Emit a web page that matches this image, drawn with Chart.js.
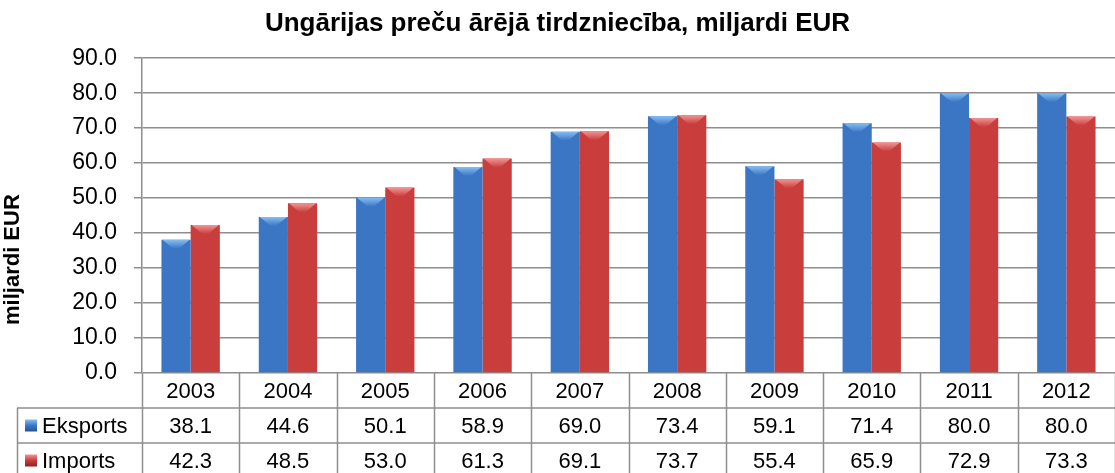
<!DOCTYPE html>
<html>
<head>
<meta charset="utf-8">
<script src="https://cdn.jsdelivr.net/npm/chart.js@4"></script>
<style>
  html, body { margin: 0; padding: 0; background: #fff; }
  #wrap { width: 1115px; height: 473px; position: relative; }
</style>
</head>
<body>
<div id="wrap"><canvas id="chart"></canvas></div>
<script>
const YEARS = ["2003", "2004", "2005", "2006", "2007", "2008", "2009", "2010", "2011", "2012"];
const EKSPORTS = [38.1, 44.6, 50.1, 58.9, 69.0, 73.4, 59.1, 71.4, 80.0, 80.0];
const IMPORTS = [42.3, 48.5, 53.0, 61.3, 69.1, 73.7, 55.4, 65.9, 72.9, 73.3];
const SERIES = ["Eksports", "Imports"];
const Y_TICKS = [0, 10, 20, 30, 40, 50, 60, 70, 80, 90];
const Y_TITLE = "miljardi EUR";

const FONT = "'Liberation Sans', Arial, sans-serif";
const GRID = "#8e8e8e";
const BLUE = { edge: "#25548f", mid: "#3b76c4", top: "#86bdf2" };
const RED = { edge: "#8a2222", mid: "#c93d3d", top: "#f29494" };

function barFill(c) {
  return (ctx) => {
    const el = ctx.element;
    if (!el || !Number.isFinite(el.x) || !Number.isFinite(el.width) || el.width <= 0) return c.mid;
    const g = ctx.chart.ctx.createLinearGradient(el.x - el.width / 2, 0, el.x + el.width / 2, 0);
    g.addColorStop(0, c.edge);
    g.addColorStop(0.12, c.mid);
    g.addColorStop(0.75, c.mid);
    g.addColorStop(1, c.edge);
    return g;
  };
}

// light chevron at top of each bar
const bevel = {
  id: "bevel",
  afterDatasetsDraw(chart) {
    const ctx = chart.ctx;
    chart.data.datasets.forEach((ds, i) => {
      const c = i === 0 ? BLUE : RED;
      chart.getDatasetMeta(i).data.forEach(bar => {
        if (!Number.isFinite(bar.y)) return;
        const l = bar.x - bar.width / 2, r = bar.x + bar.width / 2;
        ctx.save();
        const g = ctx.createLinearGradient(0, bar.y, 0, bar.y + 9);
        g.addColorStop(0, c.top);
        g.addColorStop(1, c.mid);
        ctx.fillStyle = g;
        ctx.beginPath();
        ctx.moveTo(l + 1, bar.y);
        ctx.lineTo(r - 1, bar.y);
        ctx.lineTo(bar.x + 3, bar.y + 9);
        ctx.lineTo(bar.x - 3, bar.y + 9);
        ctx.closePath();
        ctx.fill();
        ctx.restore();
      });
    });
  }
};

// data table under the plot + y axis title
const dataTable = {
  id: "dataTable",
  afterDraw(chart) {
    const ctx = chart.ctx;
    const a = chart.chartArea;
    const x = chart.scales.x;
    const rowH = 35;
    const top = a.bottom;
    const tableLeft = 17;
    const right = a.right;
    const step = x.getPixelForValue(1) - x.getPixelForValue(0);
    ctx.save();
    ctx.strokeStyle = GRID;
    ctx.lineWidth = 1.5;
    ctx.beginPath();
    for (let i = 0; i <= YEARS.length; i++) {
      const px = Math.round(x.getPixelForValue(i) - step / 2) + 0.5;
      ctx.moveTo(px, top);
      ctx.lineTo(px, top + rowH * 3);
    }
    ctx.moveTo(tableLeft, top + rowH);
    ctx.lineTo(right, top + rowH);
    ctx.moveTo(tableLeft, top + rowH * 2);
    ctx.lineTo(right, top + rowH * 2);
    ctx.moveTo(tableLeft + 0.5, top + rowH);
    ctx.lineTo(tableLeft + 0.5, top + rowH * 3);
    ctx.stroke();

    ctx.fillStyle = "#000";
    ctx.font = "22px " + FONT;
    ctx.textAlign = "center";
    ctx.textBaseline = "middle";
    const rows = [EKSPORTS, IMPORTS];
    YEARS.forEach((yr, i) => {
      const cx = x.getPixelForValue(i);
      ctx.fillText(yr, cx, top + rowH / 2 + 1);
      rows.forEach((r, j) => {
        ctx.fillText(r[i].toFixed(1), cx, top + rowH * (j + 1.5) + 1);
      });
    });

    ctx.textAlign = "left";
    SERIES.forEach((name, j) => {
      const c = j === 0 ? BLUE : RED;
      const cy = top + rowH * (j + 1.5);
      const g = ctx.createLinearGradient(0, cy - 6, 0, cy + 6);
      g.addColorStop(0, c.top);
      g.addColorStop(0.5, c.mid);
      g.addColorStop(1, c.edge);
      ctx.fillStyle = g;
      ctx.fillRect(25, cy - 6, 12, 12);
      ctx.fillStyle = "#000";
      ctx.fillText(name, 42, cy + 1);
    });

    // rotated y axis title
    ctx.translate(13, (a.top + chart.height) / 2 - 6);
    ctx.rotate(-Math.PI / 2);
    ctx.textAlign = "center";
    ctx.font = "bold 22px " + FONT;
    ctx.fillText(Y_TITLE, 0, 0);
    ctx.restore();
  }
};

new Chart(document.getElementById("chart"), {
  type: "bar",
  data: {
    labels: YEARS,
    datasets: [
      { label: SERIES[0], data: EKSPORTS, backgroundColor: barFill(BLUE) },
      { label: SERIES[1], data: IMPORTS, backgroundColor: barFill(RED) }
    ]
  },
  options: {
    responsive: true,
    maintainAspectRatio: false,
    animation: false,
    layout: { padding: { left: 0, right: 0, top: 0, bottom: 100 } },
    datasets: { bar: { categoryPercentage: 0.6, barPercentage: 1.0 } },
    plugins: {
      legend: { display: false },
      tooltip: { enabled: false },
      title: {
        display: true,
        text: "Ungārijas preču ārējā tirdzniecība, miljardi EUR",
        color: "#000",
        font: { family: FONT, size: 26, weight: "bold" },
        padding: { top: 8, bottom: 19 }
      }
    },
    scales: {
      x: { display: false, offset: true },
      y: {
        min: 0,
        max: 90,
        afterBuildTicks: (s) => { s.ticks = Y_TICKS.map(v => ({ value: v })); },
        afterFit: (s) => { s.width = 142; },
        border: { color: GRID, width: 1.5 },
        grid: { color: GRID, lineWidth: 1.5, tickLength: 8 },
        ticks: {
          color: "#000",
          padding: 17,
          font: { family: FONT, size: 23 },
          callback: (v) => Number(v).toFixed(1)
        }
      }
    }
  },
  plugins: [bevel, dataTable]
});
</script>
</body>
</html>
